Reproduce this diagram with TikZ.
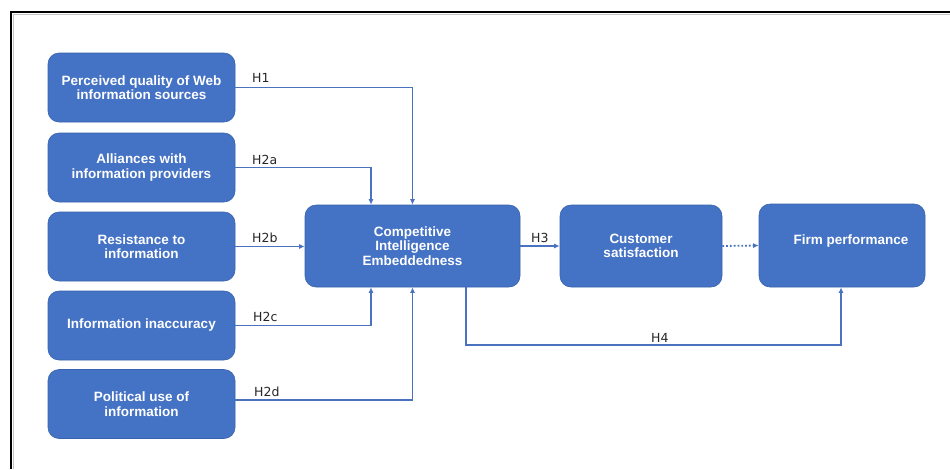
\documentclass[tikz,border=0pt]{standalone}
\usepackage{fontspec}
\setmainfont{Liberation Sans}
\newfontfamily\hypfont{DejaVu Sans}
\usetikzlibrary{arrows.meta}
\definecolor{boxblue}{HTML}{4472C4}
\definecolor{boxedge}{HTML}{3A63AE}
\definecolor{linkblue}{HTML}{4A72BE}
\begin{document}
\begin{tikzpicture}[x=1pt,y=-1pt,
  box/.style={draw=boxedge, line width=0.6pt, fill=boxblue, rounded corners=11pt,
    text=white, font=\fontsize{13.5}{14.5}\selectfont\bfseries, align=center, inner sep=0pt},
  srcbox/.style={box, minimum width=187pt, minimum height=69pt},
  link/.style={draw=linkblue, line width=1.8pt, -{Latex[length=5.5pt,width=5pt]}},
  hyp/.style={font=\hypfont\fontsize{12.5}{14}\selectfont, anchor=base west, inner sep=0pt, text=black!85}]
\useasboundingbox (0,0) rectangle (950,469);

% frame
\draw[gray!45, line width=0.8pt] (950,14) -- (13,14) -- (13,469);
\draw[line width=1.3pt] (950,12) -- (11,12) -- (11,469);

% antecedents
\node[srcbox] (pq) at (141.5,87.5)  {Perceived quality of Web\\information sources};
\node[srcbox] (al) at (141.5,167.5) {Alliances with\\information providers};
\node[srcbox] (rs) at (141.5,246.5) {Resistance to\\information};
\node[srcbox] (ia) at (141.5,325.5) {Information inaccuracy};
\node[srcbox] (pu) at (141.5,404)   {Political use of\\information};

% core constructs
\node[box, minimum width=215pt, minimum height=82pt] (cie) at (412.5,246) {Competitive\\Intelligence\\Embeddedness};
\node[box, minimum width=162pt, minimum height=82pt] (cs) at (641,246) {Customer\\satisfaction};
\node[box, minimum width=166pt, minimum height=83pt, text height=9.5pt, text depth=11pt] (fp) at (842,245.5) {\hspace*{18pt}Firm performance};

% hypothesised paths
\draw[link] (pq.east) -| (cie.north);
\draw[link] (al.east) -| ([xshift=-41.5pt]cie.north);
\draw[link] (rs.east) -- (rs.east -| cie.west);
\draw[link] (ia.east) -| ([xshift=-41.5pt]cie.south);
\draw[link] ([yshift=4pt]pu.east) -| (cie.south);
\draw[link] (cie.east) -- (cs.west);
\draw[link, dotted] (cs.east) -- (fp.west);
\coordinate (h4turn) at (466,345);
\draw[link] (cie.south -| h4turn) -- (h4turn) -| ([xshift=-1pt]fp.south);

% path labels
\node[hyp] (l1)  at (252,82)  {H1};
\node[hyp] (l2a) at (252,164) {H2a};
\node[hyp] (l2b) at (252,242) {H2b};
\node[hyp] (l2c) at (253,321) {H2c};
\node[hyp] (l2d) at (254,396) {H2d};
\node[hyp] (l3)  at (531,242) {H3};
\node[hyp] (l4)  at (651,342) {H4};
\end{tikzpicture}
\end{document}
